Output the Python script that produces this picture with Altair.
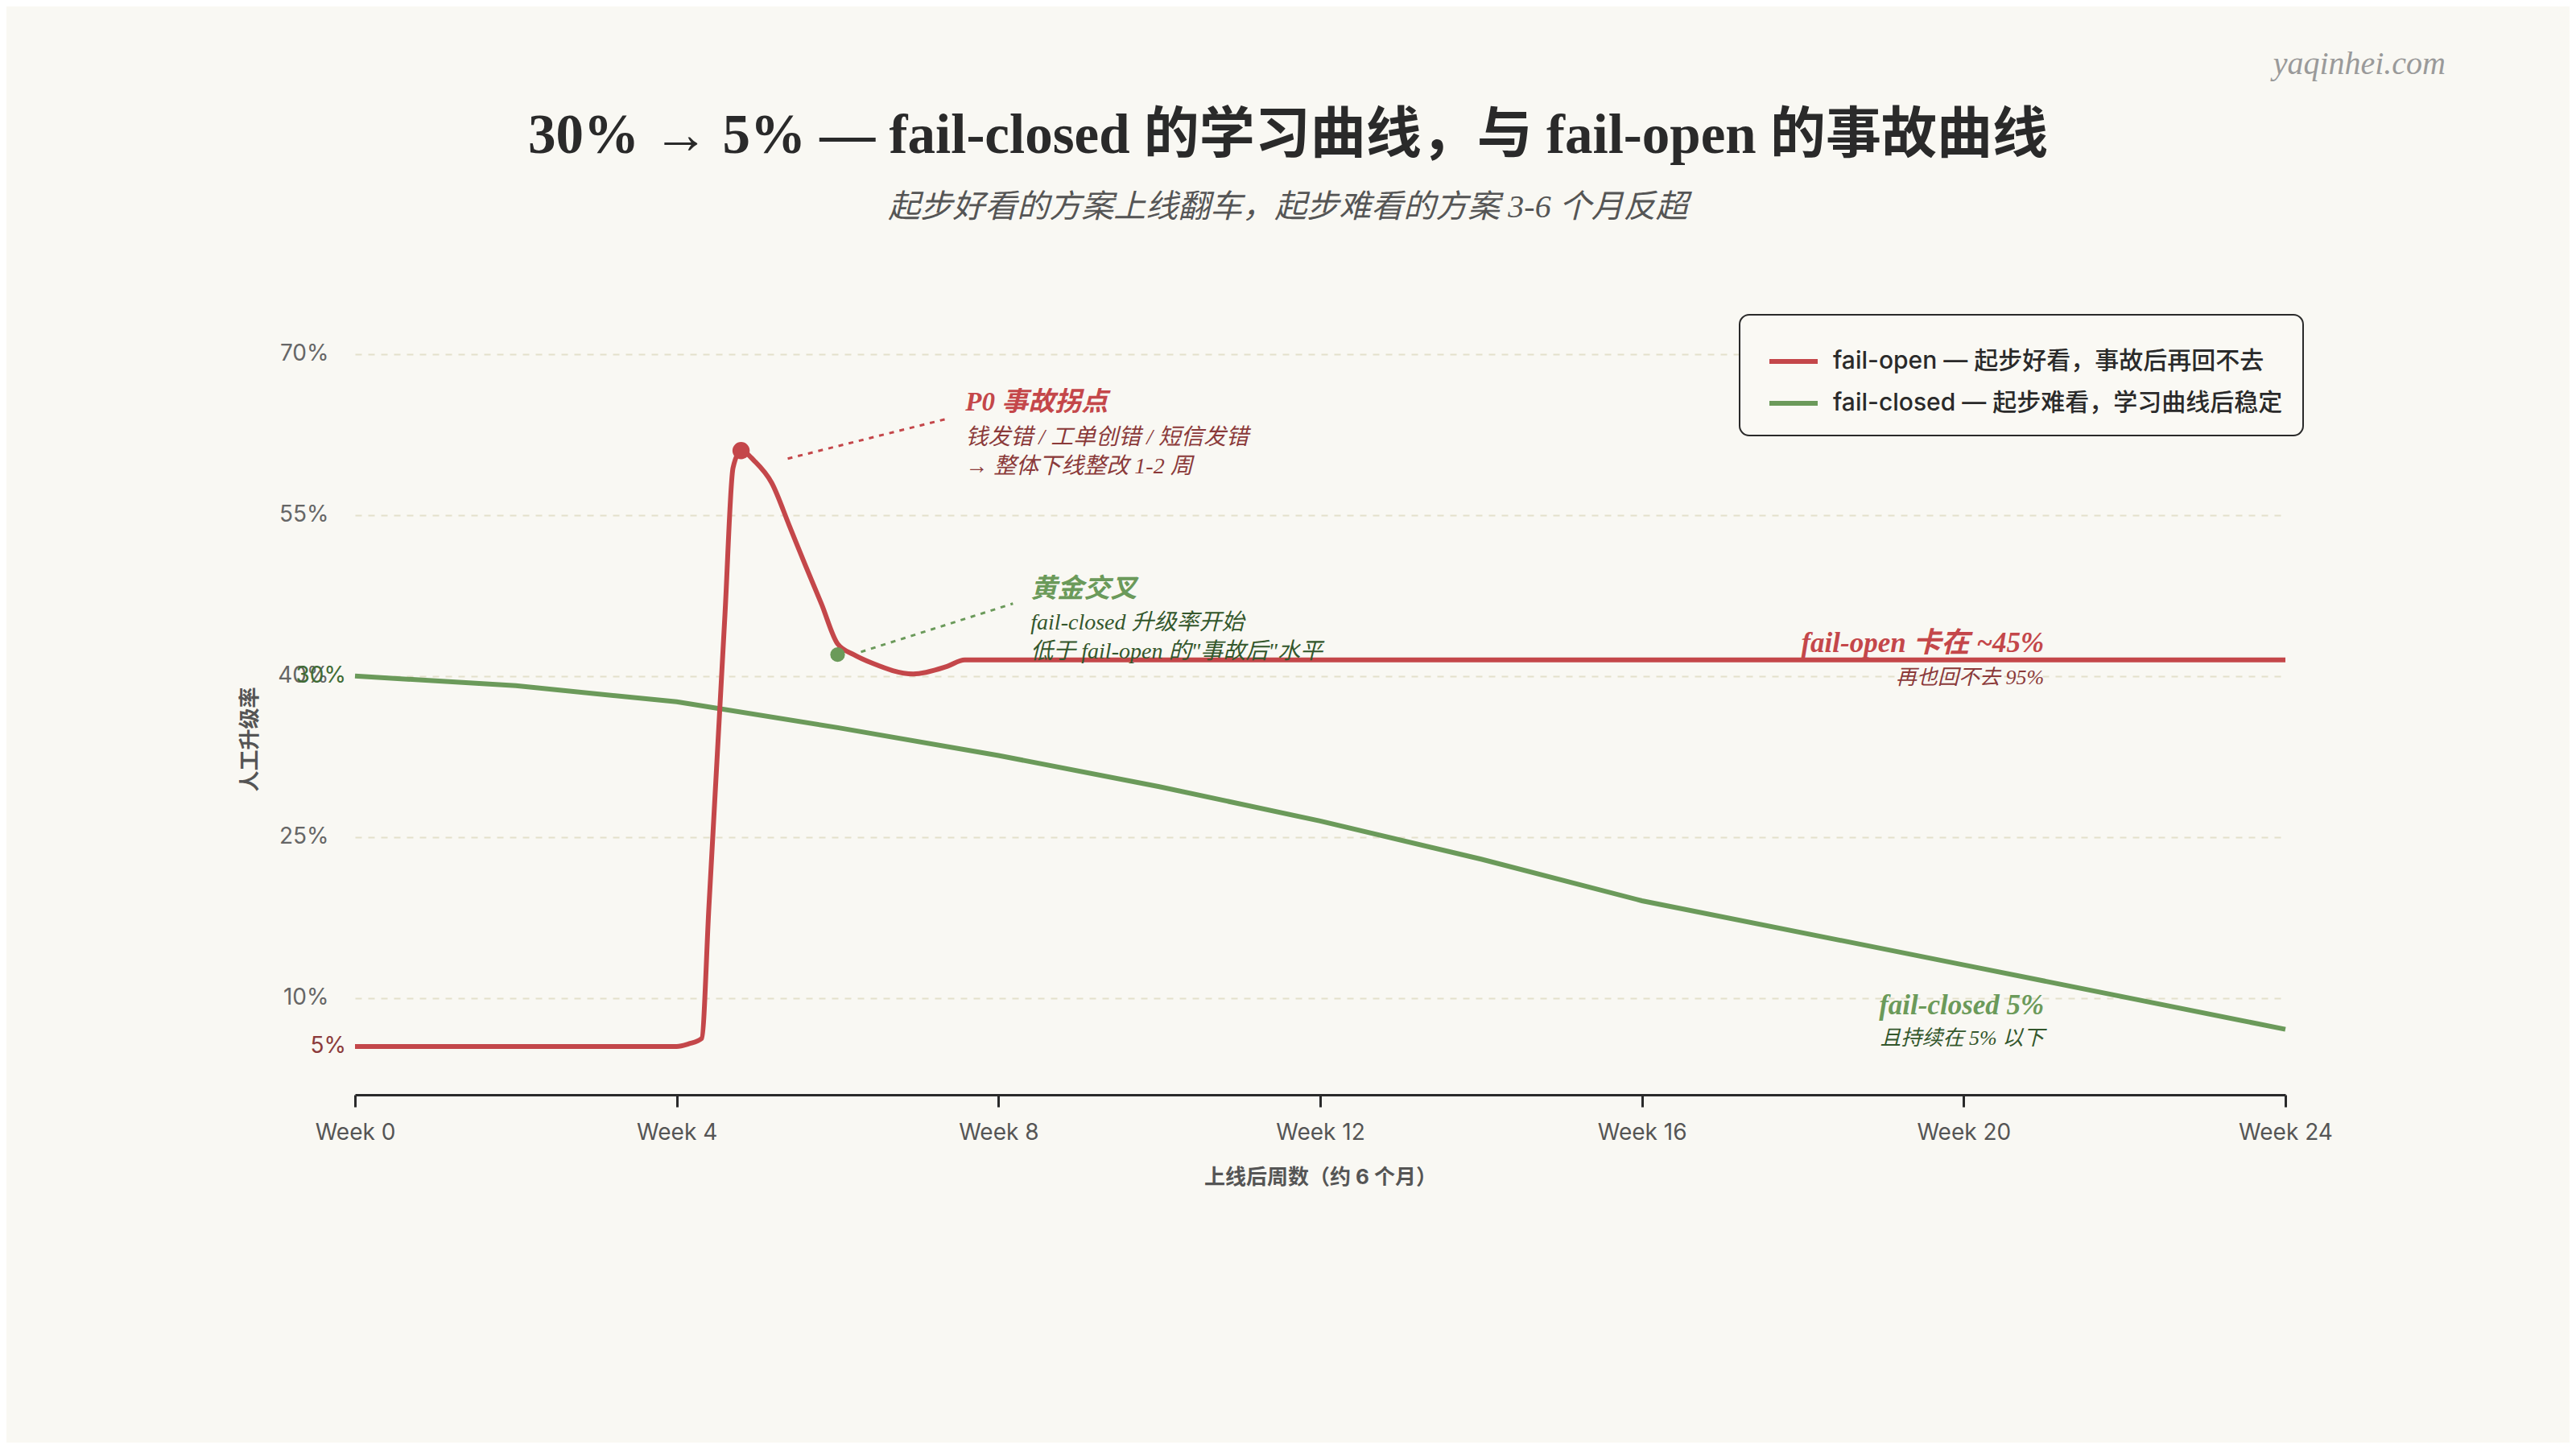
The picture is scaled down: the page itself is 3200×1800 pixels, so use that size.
import altair as alt
import pandas as pd

# ---------------- data ----------------
series_names = ["fail-open — 起步好看，事故后再回不去",
                "fail-closed — 起步难看，学习曲线后稳定"]
series_colors = ["#c4474a", "#6b9a5a"]

open_weeks = [0, 2, 4, 4.15, 4.31, 4.4, 4.5, 4.6, 4.7, 4.8, 4.97, 5.18, 5.4, 5.6, 5.8, 6.0,
              6.2, 6.43, 6.94, 7.36, 7.58, 10, 14, 18, 24]
open_rate = [5.5, 5.5, 5.5, 5.75, 6.25, 18.5, 32.1, 45.8, 59.4, 61.0, 60.0, 58.0, 54.0, 50.3, 46.7, 43.0,
             42.0, 41.2, 40.2, 40.9, 41.5, 41.5, 41.5, 41.5, 41.5]

closed_weeks = [0, 2, 4, 6, 8, 10, 12, 14, 16, 20, 24]
closed_rate = [40.0, 39.1, 37.6, 35.2, 32.6, 29.7, 26.5, 22.95, 19.07, 13.1, 7.1]

week_ticks = [0, 4, 8, 12, 16, 20, 24]
rate_ticks = [10, 25, 40, 55, 70]

dot_week = [4.8, 6.0]
dot_rate = [61.0, 42.0]
dot_color = ["#c4474a", "#6b9a5a"]

start_label_text = ["5%", "30%"]
start_label_rate = [5.5, 40.0]
start_label_color = ["#8b3a3a", "#3f6b33"]

leader_group = ["p0", "p0", "x", "x"]
leader_week = [5.38, 7.38, 6.29, 8.18]
leader_rate = [60.25, 64.0, 42.25, 46.75]
leader_color = ["#c4474a", "#c4474a", "#6b9a5a", "#6b9a5a"]

headL_text = ["P0 事故拐点", "黄金交叉"]
headL_week = [7.59, 8.40]
headL_rate = [64.75, 47.35]
headL_color = ["#c4474a", "#6b9a5a"]

subL_text = ["钱发错 / 工单创错 / 短信发错", "→ 整体下线整改 1-2 周",
             "fail-closed 升级率开始", "低于 fail-open 的\"事故后\"水平"]
subL_week = [7.59, 7.59, 8.40, 8.40]
subL_rate = [61.6, 58.9, 44.35, 41.65]
subL_color = ["#8b3a3a", "#8b3a3a", "#34572c", "#34572c"]

headR_text = ["fail-open 卡在 ~45%", "fail-closed 5%"]
headR_week = [21.0, 21.0]
headR_rate = [42.25, 8.5]
headR_color = ["#c4474a", "#6b9a5a"]

subR_text = ["再也回不去 95%", "且持续在 5% 以下"]
subR_week = [21.0, 21.0]
subR_rate = [39.25, 5.65]
subR_color = ["#8b3a3a", "#34572c"]

title_text = "30% → 5% — fail-closed 的学习曲线，与 fail-open 的事故曲线"
subtitle_text = "起步好看的方案上线翻车，起步难看的方案 3-6 个月反超"
watermark_text = "yaqinhei.com"

# ---------------- frames ----------------
df_open = pd.DataFrame({"week": open_weeks, "rate": open_rate, "series": series_names[0]})
df_closed = pd.DataFrame({"week": closed_weeks, "rate": closed_rate, "series": series_names[1]})
df_dots = pd.DataFrame({"week": dot_week, "rate": dot_rate, "c": dot_color})
df_start = pd.DataFrame({"week": [0, 0], "rate": start_label_rate, "t": start_label_text, "c": start_label_color})
df_lead = pd.DataFrame({"week": leader_week, "rate": leader_rate, "g": leader_group, "c": leader_color})
df_hl = pd.DataFrame({"week": headL_week, "rate": headL_rate, "t": headL_text, "c": headL_color})
df_sl = pd.DataFrame({"week": subL_week, "rate": subL_rate, "t": subL_text, "c": subL_color})
df_hr = pd.DataFrame({"week": headR_week, "rate": headR_rate, "t": headR_text, "c": headR_color})
df_sr = pd.DataFrame({"week": subR_week, "rate": subR_rate, "t": subR_text, "c": subR_color})
df_title = pd.DataFrame({"t": [title_text]})
df_sub = pd.DataFrame({"t": [subtitle_text]})
df_wm = pd.DataFrame({"t": [watermark_text]})

SANS = "Inter, Noto Sans CJK SC, sans-serif"
SERIF = "Liberation Serif, Noto Sans CJK SC, serif"

x_enc = alt.X(
    "week:Q",
    scale=alt.Scale(domain=[0, 24], nice=False, zero=False),
    axis=alt.Axis(
        values=week_ticks, labelExpr="'Week ' + datum.value",
        title="上线后周数（约 6 个月）", grid=False,
        domainColor="#2a2a2a", domainWidth=3, tickColor="#2a2a2a", tickWidth=3, tickSize=15,
        labelFont=SANS, labelFontSize=28, labelColor="#555555", labelPadding=18, labelFlush=False,
        titleFont=SANS, titleFontSize=26, titleFontWeight="bold", titleColor="#555555", titlePadding=28,
    ),
)
y_enc = alt.Y(
    "rate:Q",
    scale=alt.Scale(domain=[1, 75], nice=False, zero=False),
    axis=alt.Axis(
        values=rate_ticks, labelExpr="datum.value + '%'",
        domain=False, ticks=False, tickSize=0,
        grid=True, gridColor="#e4e0cb", gridDash=[8, 8], gridWidth=2,
        labelFont=SANS, labelFontSize=28, labelColor="#666666", labelPadding=33,
        title="人工升级率", titleFont=SANS, titleFontSize=26, titleFontWeight="bold",
        titleColor="#555555", titleX=-131, titleY=545, titleBaseline="middle",
    ),
)

color_enc = alt.Color(
    "series:N",
    scale=alt.Scale(domain=series_names, range=series_colors),
    legend=alt.Legend(
        orient="none", legendX=1720, legendY=18, title=None, direction="vertical",
        symbolType="stroke", symbolSize=3600, symbolStrokeWidth=6,
        labelFont=SANS, labelFontSize=30, labelFontWeight=500, labelColor="#2a2a2a", labelLimit=1200,
        padding=25, rowPadding=4, symbolOffset=9, labelOffset=16,
        fillColor="#faf9f4", strokeColor="#2a2a2a", cornerRadius=12,
    ),
)

closed_line = alt.Chart(df_closed).mark_line(strokeWidth=6, interpolate="linear").encode(
    x=x_enc, y=y_enc, color=color_enc)
open_line = alt.Chart(df_open).mark_line(strokeWidth=6, interpolate="monotone").encode(
    x=x_enc, y=y_enc, color=color_enc)

leaders = alt.Chart(df_lead).mark_line(strokeWidth=3, strokeDash=[6, 7]).encode(
    x=x_enc, y=y_enc, detail="g:N", stroke=alt.Stroke("c:N", scale=None))

dots = alt.Chart(df_dots).mark_circle(opacity=1).encode(
    x=x_enc, y=y_enc, fill=alt.Fill("c:N", scale=None),
    size=alt.Size("c:N", scale=alt.Scale(domain=dot_color, range=[460, 330]), legend=None))

start_labels = alt.Chart(df_start).mark_text(
    align="right", baseline="middle", dx=-11, font=SANS, fontSize=28).encode(
    x=x_enc, y=y_enc, text="t:N", fill=alt.Fill("c:N", scale=None))

head_left = alt.Chart(df_hl).mark_text(
    align="left", baseline="alphabetic", font=SERIF, fontSize=33, fontStyle="italic", fontWeight="bold").encode(
    x=x_enc, y=y_enc, text="t:N", fill=alt.Fill("c:N", scale=None))
sub_left = alt.Chart(df_sl).mark_text(
    align="left", baseline="alphabetic", font=SERIF, fontSize=28, fontStyle="italic").encode(
    x=x_enc, y=y_enc, text="t:N", fill=alt.Fill("c:N", scale=None))
head_right = alt.Chart(df_hr).mark_text(
    align="right", baseline="alphabetic", font=SERIF, fontSize=35, fontStyle="italic", fontWeight="bold").encode(
    x=x_enc, y=y_enc, text="t:N", fill=alt.Fill("c:N", scale=None))
sub_right = alt.Chart(df_sr).mark_text(
    align="right", baseline="alphabetic", font=SERIF, fontSize=26, fontStyle="italic").encode(
    x=x_enc, y=y_enc, text="t:N", fill=alt.Fill("c:N", scale=None))

title_mark = alt.Chart(df_title).mark_text(
    align="center", baseline="alphabetic", font=SERIF, fontSize=69, fontWeight="bold", color="#2a2a2a").encode(
    x=alt.value(1159), y=alt.value(-183), text="t:N")
subtitle_mark = alt.Chart(df_sub).mark_text(
    align="center", baseline="alphabetic", font=SERIF, fontSize=40, fontStyle="italic", color="#555555").encode(
    x=alt.value(1159), y=alt.value(-103), text="t:N")
watermark = alt.Chart(df_wm).mark_text(
    align="right", baseline="alphabetic", font=SERIF, fontSize=40, fontStyle="italic", color="#9a9a9a").encode(
    x=alt.value(2597), y=alt.value(-281), text="t:N")

chart = alt.layer(
    closed_line, open_line, leaders, dots, start_labels,
    head_left, sub_left, head_right, sub_right,
    title_mark, subtitle_mark, watermark,
).properties(
    width=2398, height=987,
    autosize=alt.AutoSizeParams(type="none"),
    padding={"left": 433, "top": 365, "right": 353, "bottom": 432},
    background="#f9f8f3",
).configure_view(stroke=None).configure_legend(strokeWidth=2)

chart.save("out.html", embed_options={"renderer": "svg", "actions": False})
